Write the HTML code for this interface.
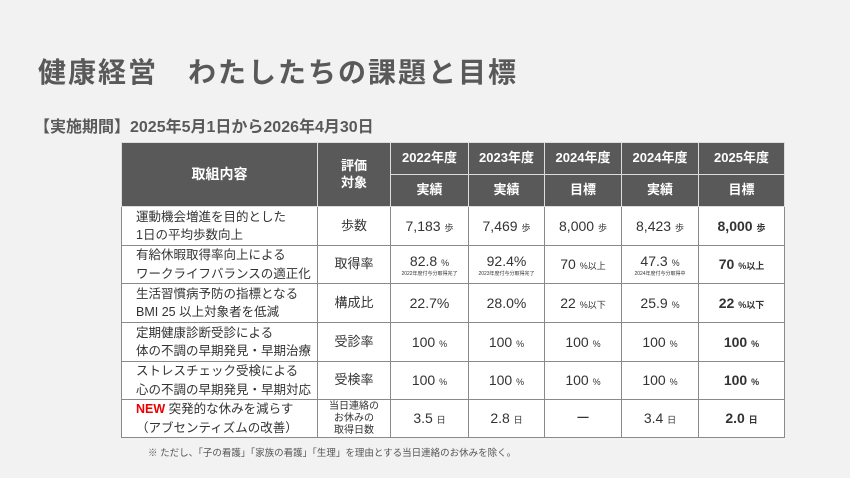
<!DOCTYPE html>
<html><head><meta charset="utf-8"><style>
body{margin:0;width:850px;height:478px;background:#f2f2f2;font-family:"Liberation Sans","Noto Sans CJK JP",sans-serif;color:#333;position:relative;overflow:hidden}
.t{position:absolute;left:38px;top:51px;font-size:28px;font-weight:bold;color:#595959;letter-spacing:2px}
.s{position:absolute;left:34px;top:113px;font-size:16px;font-weight:bold;color:#595959}
table{position:absolute;left:121px;top:142px;border-collapse:collapse;table-layout:fixed}
td{border:1.5px solid #8a8a8a;background:#fff;text-align:center;font-size:14px;padding:0;line-height:1.3}
tr.h td{background:#595959;color:#fff;font-weight:bold;font-size:13px;border-color:#ddd}
td.l{text-align:left;padding-left:14px;font-size:12.5px;line-height:1.45}
.u{font-size:9px}
.n{font-size:5px;display:block;line-height:6px;margin-top:1px}
.b{font-weight:bold}
.f{position:absolute;left:148px;top:445px;font-size:9.5px;color:#555}
</style></head><body>
<div class="t">健康経営　わたしたちの課題と目標</div>
<div class="s">【実施期間】2025年5月1日から2026年4月30日</div>
<table>
<colgroup><col style="width:196px"><col style="width:73px"><col style="width:78px"><col style="width:76px"><col style="width:77px"><col style="width:77px"><col style="width:86px"></colgroup>
<tr class="h" style="height:32px"><td rowspan="2" style="font-size:14px">取組内容</td><td rowspan="2">評価<br>対象</td><td>2022年度</td><td>2023年度</td><td>2024年度</td><td>2024年度</td><td>2025年度</td></tr>
<tr class="h" style="height:32px"><td>実績</td><td>実績</td><td>目標</td><td>実績</td><td>目標</td></tr>
<tr style="height:39px"><td class="l">運動機会増進を目的とした<br>1日の平均歩数向上</td><td style="font-size:13px">歩数</td><td>7,183 <span class="u">歩</span></td><td>7,469 <span class="u">歩</span></td><td>8,000 <span class="u">歩</span></td><td>8,423 <span class="u">歩</span></td><td class="b">8,000 <span class="u">歩</span></td></tr>
<tr style="height:38px"><td class="l">有給休暇取得率向上による<br>ワークライフバランスの適正化</td><td style="font-size:13px">取得率</td><td>82.8 <span class="u">%</span><span class="n">2022年度付与分取得完了</span></td><td>92.4%<span class="n">2023年度付与分取得完了</span></td><td>70 <span class="u">%以上</span></td><td>47.3 <span class="u">%</span><span class="n">2024年度付与分取得中</span></td><td class="b">70 <span class="u">%以上</span></td></tr>
<tr style="height:39px"><td class="l">生活習慣病予防の指標となる<br>BMI 25 以上対象者を低減</td><td style="font-size:13px">構成比</td><td>22.7%</td><td>28.0%</td><td>22 <span class="u">%以下</span></td><td>25.9 <span class="u">%</span></td><td class="b">22 <span class="u">%以下</span></td></tr>
<tr style="height:39px"><td class="l">定期健康診断受診による<br>体の不調の早期発見・早期治療</td><td style="font-size:13px">受診率</td><td>100 <span class="u">%</span></td><td>100 <span class="u">%</span></td><td>100 <span class="u">%</span></td><td>100 <span class="u">%</span></td><td class="b">100 <span class="u">%</span></td></tr>
<tr style="height:38px"><td class="l">ストレスチェック受検による<br>心の不調の早期発見・早期対応</td><td style="font-size:13px">受検率</td><td>100 <span class="u">%</span></td><td>100 <span class="u">%</span></td><td>100 <span class="u">%</span></td><td>100 <span class="u">%</span></td><td class="b">100 <span class="u">%</span></td></tr>
<tr style="height:38px"><td class="l"><span style="color:#e00;font-weight:bold">NEW</span> 突発的な休みを減らす<br>（アブセンティズムの改善）</td><td style="font-size:10px;line-height:1.2">当日連絡の<br>お休みの<br>取得日数</td><td>3.5 <span class="u">日</span></td><td>2.8 <span class="u">日</span></td><td>ー</td><td>3.4 <span class="u">日</span></td><td class="b">2.0 <span class="u">日</span></td></tr>
</table>
<div class="f">※ ただし、「子の看護」「家族の看護」「生理」を理由とする当日連絡のお休みを除く。</div>
</body></html>
